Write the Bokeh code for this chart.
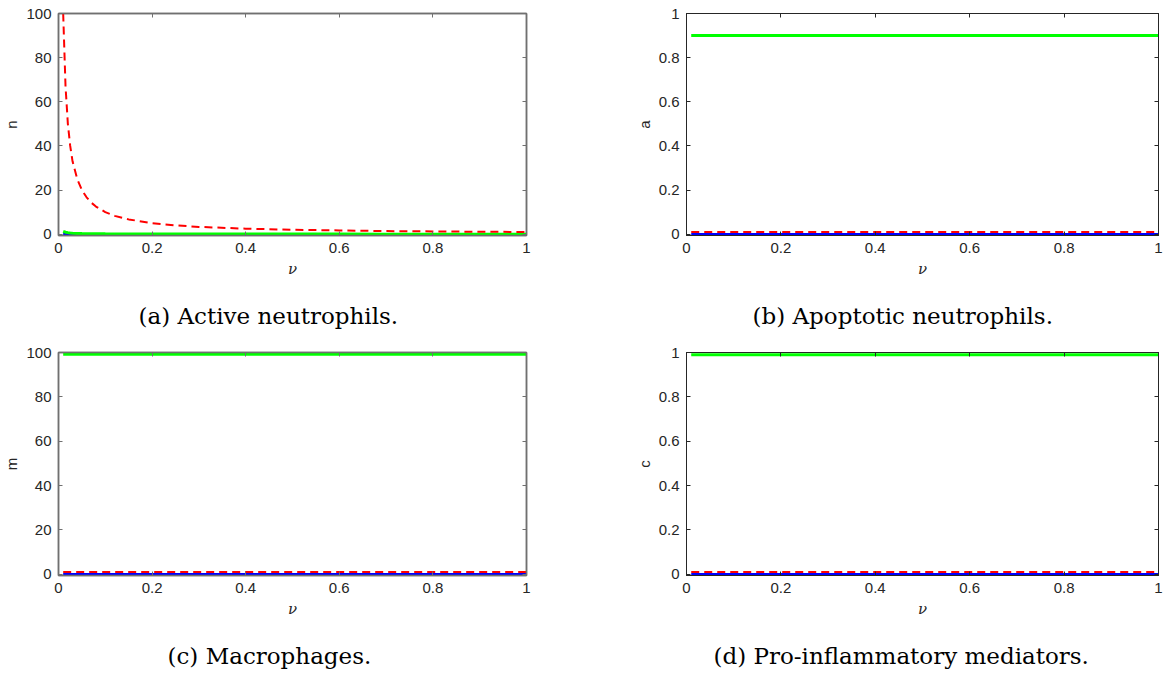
from bokeh.plotting import figure
from bokeh.models import LinearAxis, Range1d, FixedTicker, PrintfTickFormatter, Title
from bokeh.layouts import column, row
from bokeh.embed import file_html
from bokeh.resources import INLINE

# ---------------- data ----------------
nu_ticks = [0, 0.2, 0.4, 0.6, 0.8, 1.0]
y_ticks_100 = [0, 20, 40, 60, 80, 100]
y_ticks_1 = [0, 0.2, 0.4, 0.6, 0.8, 1.0]

# (a) active neutrophils
nu_a = [0.01, 0.015, 0.02, 0.025, 0.03, 0.04, 0.05, 0.06, 0.07, 0.08, 0.1, 0.12,
        0.15, 0.2, 0.25, 0.3, 0.4, 0.5, 0.6, 0.7, 0.8, 0.9, 1.0]
n_red = [100, 67, 50, 40, 33, 25, 20, 16.7, 14.3, 12.5, 10, 8.3,
         6.7, 5.0, 4.0, 3.3, 2.5, 2.0, 1.7, 1.4, 1.25, 1.1, 1.0]
n_green = [1.3, 0.9, 0.7, 0.55, 0.45, 0.35, 0.28, 0.23, 0.2, 0.17, 0.14, 0.12,
           0.1, 0.07, 0.06, 0.05, 0.04, 0.03, 0.025, 0.02, 0.018, 0.016, 0.015]
n_blue = [0.05, 0.04, 0.03, 0.03, 0.02, 0.02, 0.02, 0.01, 0.01, 0.01, 0.01, 0.01,
          0.0, 0.0, 0.0, 0.0, 0.0, 0.0, 0.0, 0.0, 0.0, 0.0, 0.0]

# flat curves for (b), (c), (d)
nu_flat = [0.01, 1.0]
a_green = [0.9, 0.9]
a_red = [0.01, 0.01]
a_blue = [0.0, 0.0]
m_green = [99.2, 99.2]
m_red = [1.0, 1.0]
m_blue = [0.0, 0.0]
c_green = [0.99, 0.99]
c_red = [0.01, 0.01]
c_blue = [0.0, 0.0]

captions = ["(a) Active neutrophils.", "(b) Apoptotic neutrophils.",
            "(c) Macrophages.", "(d) Pro-inflammatory mediators."]
y_labels = ["n", "a", "m", "c"]

TXT = "#262626"
TICK_FONT = "Liberation Sans"
CAP_FONT = "DejaVu Serif"


def panel(x, yb, yg, yr, ylab, ymax, yticks, caption, cap_off, gap,
          width, height, mb, frame_col, frame_w):
    y0 = -0.006 * ymax
    p = figure(width=width, height=height,
               x_range=Range1d(0, 1), y_range=Range1d(y0, ymax),
               output_backend="svg", toolbar_location=None,
               min_border_left=mb[0], min_border_right=mb[1],
               min_border_top=mb[2], min_border_bottom=mb[3])
    p.grid.visible = False
    p.background_fill_color = "white"
    p.border_fill_color = "white"
    p.outline_line_color = frame_col
    p.outline_line_width = frame_w
    p.add_layout(LinearAxis(), "above")
    p.add_layout(LinearAxis(), "right")
    axes = [a for a in (p.below + p.above + p.left + p.right) if isinstance(a, LinearAxis)]
    for ax in axes:
        ax.axis_line_color = frame_col
        ax.axis_line_width = frame_w
        ax.major_tick_line_color = frame_col
        ax.major_tick_line_width = 1
        ax.major_tick_in = 4
        ax.major_tick_out = 0
        ax.minor_tick_line_color = None
        ax.formatter = PrintfTickFormatter(format="%g")
        ax.major_label_text_font = TICK_FONT
        ax.major_label_text_font_size = "15px"
        ax.major_label_text_color = TXT
        ax.major_label_standoff = 7
    for ax in p.above + p.below:
        if isinstance(ax, LinearAxis):
            ax.ticker = FixedTicker(ticks=nu_ticks)
    for ax in p.left + p.right:
        if isinstance(ax, LinearAxis):
            ax.ticker = FixedTicker(ticks=yticks)
    for ax in p.above + p.right:
        if isinstance(ax, LinearAxis):
            ax.major_label_text_font_size = "1px"
            ax.major_label_text_color = None
            ax.major_label_standoff = 0
    xa = p.below[0]
    xa.axis_label = "ν"
    xa.axis_label_text_font = CAP_FONT
    xa.axis_label_text_font_style = "italic"
    xa.axis_label_text_font_size = "15px"
    xa.axis_label_text_color = TXT
    xa.axis_label_standoff = 4
    ya = p.left[0]
    ya.axis_label = ylab
    ya.axis_label_text_font = TICK_FONT
    ya.axis_label_text_font_style = "normal"
    ya.axis_label_text_font_size = "15px"
    ya.axis_label_text_color = TXT
    ya.axis_label_standoff = 3

    p.line(x, yb, line_color="#0000ff", line_width=2.5)
    p.line(x, yg, line_color="#00ff00", line_width=3)
    p.line(x, yr, line_color="#ff0000", line_width=2, line_dash="8 5")

    # blank spacer between the nu label and the caption (white on white)
    spacer = Title(text=".", text_font_size="3px", text_color="white", standoff=gap)
    p.add_layout(spacer, "below")
    cap = Title(text=caption, align="left", offset=cap_off, vertical_align="top",
                text_font=CAP_FONT, text_font_size="23px", text_font_style="normal",
                text_color="black", standoff=0)
    p.add_layout(cap, "below")
    return p


GRAY = "#707070"
DARK = "#262626"

pa = panel(nu_a, n_blue, n_green, n_red, y_labels[0], 100, y_ticks_100,
           captions[0], 80, 17, 610, 340, (57, 84, 13, 105), GRAY, 1.5)
pb = panel(nu_flat, a_blue, a_green, a_red, y_labels[1], 1, y_ticks_1,
           captions[1], 66, 17, 553, 340, (76, 5, 13, 105), DARK, 1)
pc = panel(nu_flat, m_blue, m_green, m_red, y_labels[2], 100, y_ticks_100,
           captions[2], 109, 17, 610, 336, (57, 84, 12, 101), GRAY, 1.5)
pd = panel(nu_flat, c_blue, c_green, c_red, y_labels[3], 1, y_ticks_1,
           captions[3], 27, 17, 553, 336, (76, 5, 12, 101), DARK, 1)

layout = column(row(pa, pb), row(pc, pd))
open("out.html", "w").write(file_html(layout, INLINE))
